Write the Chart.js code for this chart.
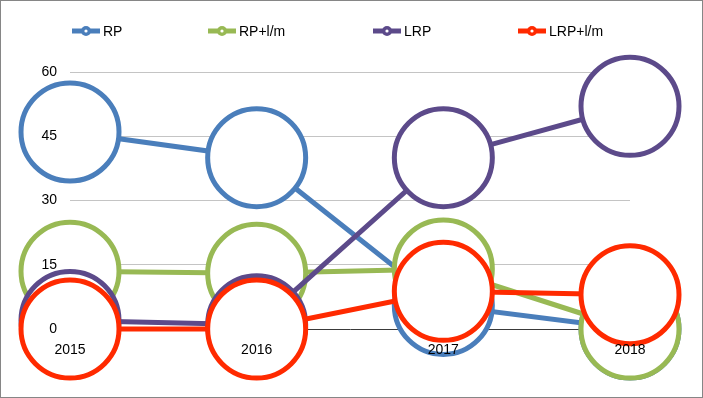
<!DOCTYPE html>
<html>
<head>
<meta charset="utf-8">
<script src="https://cdn.jsdelivr.net/npm/chart.js@4.4.0/dist/chart.umd.min.js"></script>
<style>
html, body { margin: 0; padding: 0; background: #fff; }
#wrap { position: relative; width: 703px; height: 398px; }
#frame { position: absolute; left: 0; top: 0; width: 703px; height: 398px; box-sizing: border-box; border: 1px solid #868686; pointer-events: none; }
</style>
</head>
<body>
<div id="wrap">
	<canvas id="chart" width="703" height="398" style="width:703px;height:398px"></canvas>
	<div id="frame"></div>
</div>
<script>
const years = ['2015', '2016', '2017', '2018'];
const seriesNames = ['RP', 'RP+l/m', 'LRP', 'LRP+l/m'];
const rpValues = [46, 40, 5.5, 0];
const rpLmValues = [13.5, 13, 14, 0];
const lrpValues = [2, 1, 40, 52];
const lrpLmValues = [0, 0, 8.8, 8];
const yTicks = [0, 15, 30, 45, 60];

const colors = ['#4a7ebb', '#98b954', '#5c4a8a', '#ff2a00'];
const font = '"Liberation Sans", Arial, sans-serif';

// excel style legend: line with a ring marker
const legendPlugin = {
	id: 'excelLegend',
	afterDraw(chart) {
		const ctx = chart.ctx;
		const xs = [72, 208, 373, 518];
		const y = 31;
		ctx.save();
		chart.data.datasets.forEach((ds, i) => {
			const x = xs[i];
			ctx.strokeStyle = ds.borderColor;
			ctx.lineWidth = 5;
			ctx.beginPath();
			ctx.moveTo(x, y);
			ctx.lineTo(x + 28, y);
			ctx.stroke();
			ctx.fillStyle = ds.borderColor;
			ctx.beginPath();
			ctx.arc(x + 14, y, 5, 0, Math.PI * 2);
			ctx.fill();
			ctx.fillStyle = '#fff';
			ctx.beginPath();
			ctx.arc(x + 14, y, 1.6, 0, Math.PI * 2);
			ctx.fill();
			ctx.fillStyle = '#000';
			ctx.font = '14px ' + font;
			ctx.textBaseline = 'middle';
			ctx.fillText(ds.label, x + 31, y + 1);
		});
		ctx.restore();
	}
};

function makeDataset(i, values) {
	return {
		label: seriesNames[i],
		data: values,
		borderColor: colors[i],
		backgroundColor: '#fff',
		pointBackgroundColor: '#fff',
		pointBorderColor: colors[i],
		borderWidth: 5,
		pointBorderWidth: 5,
		pointRadius: 49,
		pointHoverRadius: 49,
		tension: 0,
		clip: false,
		order: 4 - i
	};
}

new Chart(document.getElementById('chart').getContext('2d'), {
	type: 'line',
	data: {
		labels: years,
		datasets: [
			makeDataset(0, rpValues),
			makeDataset(1, rpLmValues),
			makeDataset(2, lrpValues),
			makeDataset(3, lrpLmValues)
		]
	},
	options: {
		responsive: false,
		animation: false,
		layout: { padding: { left: 0, right: 73, top: 72, bottom: 0 } },
		plugins: {
			legend: { display: false },
			tooltip: { enabled: false }
		},
		scales: {
			x: {
				offset: false,
				grid: { display: false },
				border: { display: true, color: '#3a3a3a', width: 1 },
				ticks: { z: 1, padding: 5, color: '#000', font: { family: font, size: 14 } },
				afterFit: s => { s.height = 69; }
			},
			y: {
				min: yTicks[0],
				max: yTicks[yTicks.length - 1],
				ticks: { z: 1, stepSize: yTicks[1] - yTicks[0], padding: 13, color: '#000', font: { family: font, size: 14 } },
				grid: {
					drawTicks: false,
					color: c => c.tick && c.tick.value === 0 ? 'rgba(0,0,0,0)' : '#c4c4c4',
					lineWidth: 1
				},
				border: { display: false },
				afterFit: s => { s.width = 70; }
			}
		}
	},
	plugins: [legendPlugin]
});
</script>
</body>
</html>
